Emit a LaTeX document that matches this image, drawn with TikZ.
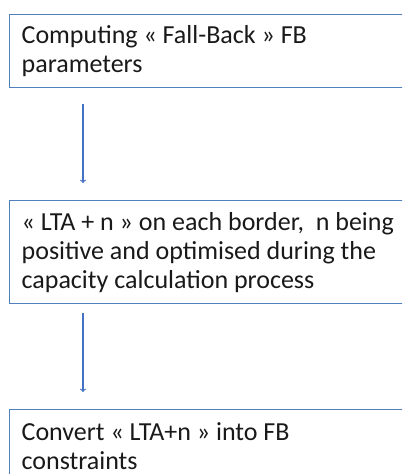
\documentclass[tikz,border=0pt]{standalone}
\usepackage{fontspec}
\setmainfont{Carlito}
\usepackage{tikz}

\definecolor{boxblue}{HTML}{4F81BD}
\definecolor{arrowblue}{HTML}{4472C4}

\begin{document}
\begin{tikzpicture}[
    x=1pt,
    y=1pt,
    stepbox/.style={
      draw=boxblue,
      line width=1.3pt,
      anchor=north west,
      inner xsep=12pt,
      inner ysep=0pt,
      text width=390pt,
      align=flush left,
      text=black!90,
      font=\fontsize{26}{29}\selectfont},
    flow/.style={
      draw=arrowblue,
      line width=1.2pt,
      ->},
  ]
  \useasboundingbox (0,0) rectangle (402,-474);
  \clip (0,0) rectangle (402,-474);
  \node[
    stepbox,
    minimum height=73pt,
  ] (fb) at (9,-14) {Computing « Fall-Back » FB\\parameters};
  \node[
    stepbox,
    minimum height=103pt,
  ] (lta) at (9,-200) {« LTA + n » on each border,~ n being\\positive and optimised during the\\capacity calculation process};
  \node[
    stepbox,
    minimum height=72pt,
  ] (convert) at (9,-409) {Convert « LTA+n » into FB\\constraints};
  \draw[
    flow,
    shorten <=16pt,
    shorten >=17pt,
  ] ([xshift=74pt]fb.south west) -- ([xshift=74pt]lta.north west);
  \draw[
    flow,
    shorten <=9pt,
    shorten >=17pt,
  ] ([xshift=74pt]lta.south west) -- ([xshift=74pt]convert.north west);
\end{tikzpicture}
\end{document}
